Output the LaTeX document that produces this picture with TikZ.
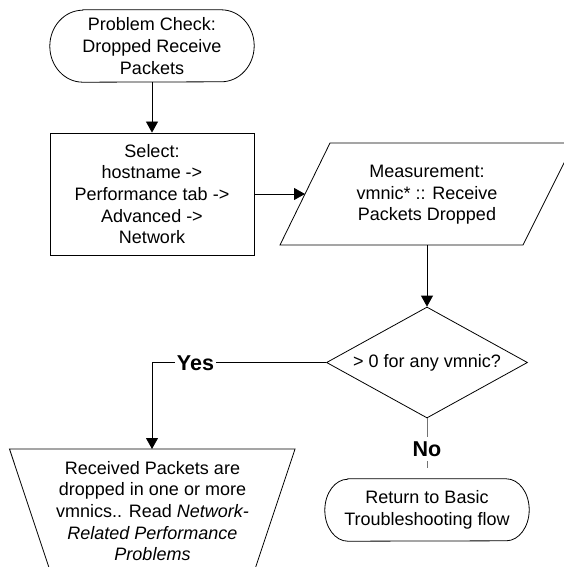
\documentclass[tikz,border=0pt]{standalone}
\usepackage{fontspec}
\setmainfont{Liberation Sans}
\usetikzlibrary{arrows.meta,shapes.geometric}

% Terminator outline with elliptical ends around a rectangular node:
% #1 node name, #2 horizontal radius, #3 vertical radius
\newcommand\termoutline[3]{%
  \draw[outline] ([xshift=#2]#1.north west) -- ([xshift=-#2]#1.north east)
    arc[start angle=90,end angle=-90,x radius=#2,y radius=#3]
    -- ([xshift=#2]#1.south west)
    arc[start angle=270,end angle=90,x radius=#2,y radius=#3] -- cycle;}

\begin{document}
\begin{tikzpicture}[x=1bp,y=1bp,
  every node/.style={font=\fontsize{18bp}{21.6bp}\selectfont, align=center, inner sep=0pt},
  outline/.style={draw=black, line width=0.8bp},
  termbox/.style={rectangle, minimum width=204bp},
  process/.style={outline, rectangle, minimum width=204bp, minimum height=122bp},
  decision/.style={outline, diamond, minimum width=201bp, minimum height=111bp},
  flow/.style={draw=black, line width=0.8bp, -{Triangle[length=11bp,width=12bp]}},
  noline/.style={draw=black!55, line width=0.8bp},
  branch/.style={font=\fontsize{21.5bp}{24bp}\selectfont\bfseries, fill=white,
                 inner xsep=2bp, inner ysep=4.5bp}]
\useasboundingbox (0,0) rectangle (564,-567);
\clip (0,0) rectangle (564,-567);

% Start terminator
\node[termbox, minimum height=72bp] (start) at (152,-46)
  {Problem Check:\\Dropped Receive\\Packets};
\termoutline{start}{33bp}{36bp}

% Navigation step
\node[process] (select) at (152,-194)
  {Select:\\hostname ->\\Performance tab ->\\Advanced ->\\Network};

% Measurement (data) parallelogram
\node (meas) at (427,-195) {Measurement:\\vmnic* :: Receive\\Packets Dropped};
\draw[outline] (280,-245) -- (330,-143) -- (574,-143) -- (523,-245) -- cycle;
\coordinate (meas-w) at (305,-194);
\coordinate (meas-s) at (427,-245);

% Decision
\node[decision, label={center:> 0 for any vmnic?}] (check) at (427,-362.5) {};

% Result (manual operation trapezoid)
\node (result) at (152.5,-511)
  {Received Packets are\\dropped in one or more\\vmnics.. Read \textit{Network-}\\%
   \textit{Related Performance}\\\textit{Problems}};
\draw[outline] (59.8,-600) -- (9.5,-449) -- (295,-449) -- (244.7,-600);
\coordinate (result-n) at (152,-449);

% Return terminator
\node[termbox, minimum height=62bp] (ret) at (427,-510)
  {Return to Basic\\Troubleshooting flow};
\termoutline{ret}{23bp}{31bp}

% Connectors
\draw[flow] (start.south) -- (select.north);
\draw[flow] (select.east) -- (meas-w);
\draw[flow] (meas-s) -- (check.north);
\draw[flow] (check.west) -| (result-n);
\node[branch] (yes) at (195.5,-363) {Yes};
\coordinate (no-end) at (427,-468);
\draw[noline] (check.south) -- (no-end);
\node[branch] (no) at (427,-449) {No};
\end{tikzpicture}
\end{document}
